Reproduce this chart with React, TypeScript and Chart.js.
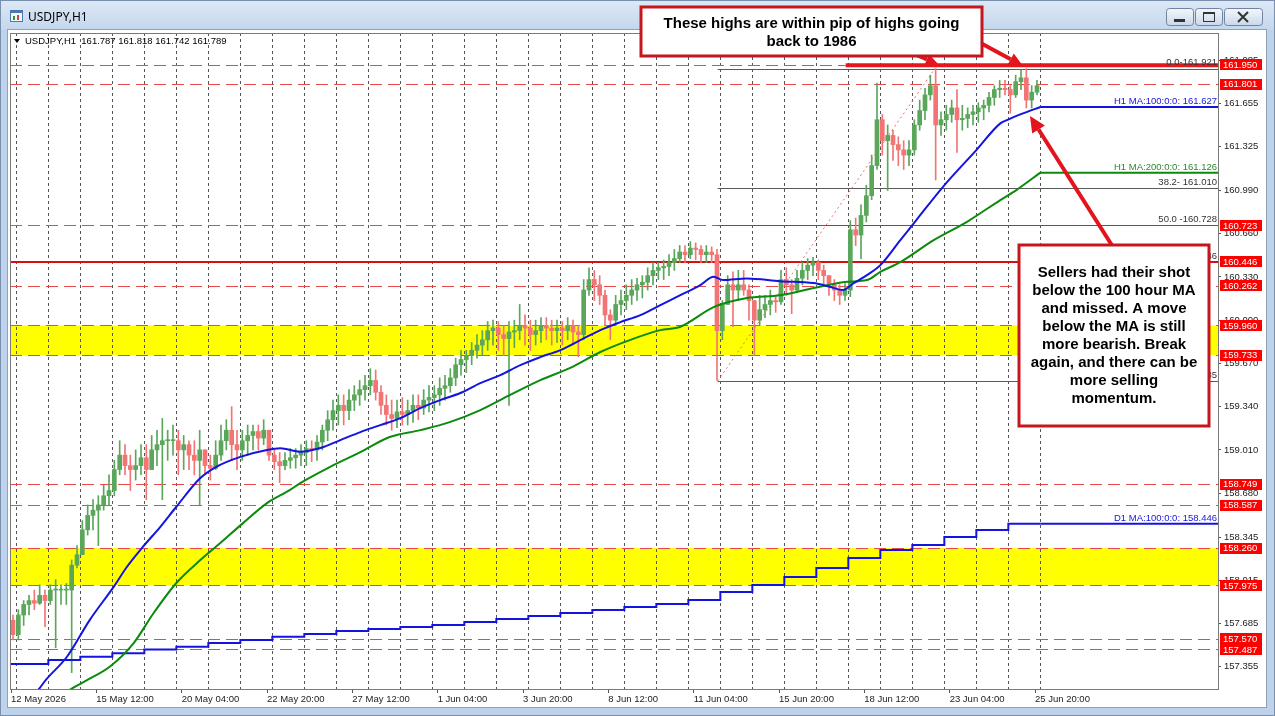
import React, { useEffect, useRef } from "react";
import { Chart, registerables } from "chart.js";

Chart.register(...registerables);

const CANVAS_W = 1275;
const CANVAS_H = 716;
const FONT = '"Liberation Sans", Arial, sans-serif';

// ---------- price axis ----------
const Y_MIN = 157.185;
const Y_MAX = 162.192;
const Y_TICKS = [161.985, 161.655, 161.325, 160.99, 160.66, 160.33, 160.0, 159.67, 159.34, 159.01, 158.68, 158.345, 158.015, 157.685, 157.355];

// ---------- time axis (H1 bar index, 0 = 12 May 2026 20:00) ----------
const X_MIN = -0.75;
const X_MAX = 905.25;
const X_LABEL_IDX = [0, 64, 128, 192, 256, 320, 384, 448, 512, 576, 640, 704, 768];
const X_LABELS = ["12 May 2026", "15 May 12:00", "20 May 04:00", "22 May 20:00", "27 May 12:00", "1 Jun 04:00", "3 Jun 20:00", "8 Jun 12:00", "11 Jun 04:00", "15 Jun 20:00", "18 Jun 12:00", "23 Jun 04:00", "25 Jun 20:00"];
const FIRST_DAY_BREAK = 4;
const BARS_PER_DAY = 24;
const LAST_BAR_IDX = 772;
const BARS_PER_CANDLE = 4;

// ---------- price candles (4-hour aggregation of the H1 bars) ----------
const OPEN_FIRST = 157.71;
const HIGH_4H = [
  157.75, 157.79, 157.86, 157.9, 157.94, 157.98, 157.94, 157.98, 158.02, 157.98,
  157.99, 158.17, 158.28, 158.47, 158.59, 158.63, 158.66, 158.74, 158.82, 158.93,
  159.08, 159.05, 158.97, 159.01, 159.05, 159.05, 159.12, 159.16, 159.25, 159.16,
  159.2, 159.16, 159.12, 159.08, 159.08, 159.16, 159.01, 158.97, 159.08, 159.2,
  159.24, 159.34, 159.16, 159.16, 159.2, 159.2, 159.2, 159.24, 159.16, 159.01,
  158.99, 158.99, 159.02, 159.02, 159.05, 159.08, 159.08, 159.12, 159.2, 159.31,
  159.39, 159.43, 159.43, 159.47, 159.5, 159.54, 159.58, 159.63, 159.62, 159.5,
  159.43, 159.39, 159.39, 159.41, 159.39, 159.43, 159.43, 159.47, 159.5, 159.5,
  159.56, 159.58, 159.63, 159.71, 159.77, 159.77, 159.83, 159.89, 159.92, 159.99,
  160.0, 159.99, 159.96, 159.99, 160.0, 160.12, 160.04, 160.0, 160.0, 160.02,
  160.02, 160.0, 160.0, 159.99, 160.02, 160.0, 159.96, 160.31, 160.4, 160.38,
  160.34, 160.23, 160.08, 160.19, 160.23, 160.27, 160.31, 160.32, 160.34, 160.4,
  160.44, 160.44, 160.46, 160.5, 160.54, 160.57, 160.57, 160.6, 160.59, 160.57,
  160.57, 160.56, 160.54, 160.15, 160.34, 160.37, 160.38, 160.38, 160.27, 160.15,
  160.19, 160.19, 160.23, 160.19, 160.38, 160.4, 160.31, 160.38, 160.44, 160.47,
  160.48, 160.46, 160.42, 160.34, 160.31, 160.27, 160.28, 160.76, 160.78, 160.88,
  161.03, 161.26, 161.81, 161.57, 161.49, 161.45, 161.4, 161.37, 161.37, 161.53,
  161.68, 161.77, 161.87, 161.92, 161.59, 161.64, 161.68, 161.76, 161.64, 161.62,
  161.64, 161.66, 161.68, 161.74, 161.79, 161.83, 161.83, 161.79, 161.87, 161.91,
  161.92, 161.79, 161.83,
];
const LOW_4H = [
  157.56, 157.56, 157.67, 157.75, 157.79, 157.83, 157.66, 157.83, 157.5, 157.83,
  157.83, 157.31, 158.11, 158.28, 158.36, 158.4, 158.28, 158.55, 158.59, 158.66,
  158.82, 158.82, 158.7, 158.78, 158.82, 158.63, 158.86, 158.89, 158.63, 158.93,
  158.97, 158.82, 158.86, 158.86, 158.82, 158.59, 158.82, 158.78, 158.86, 158.93,
  159.01, 158.93, 158.86, 158.93, 158.97, 159.01, 159.01, 159.05, 158.93, 158.86,
  158.76, 158.86, 158.87, 158.87, 158.89, 158.89, 158.92, 158.93, 159.01, 159.08,
  159.16, 159.2, 159.2, 159.24, 159.31, 159.35, 159.39, 159.43, 159.39, 159.28,
  159.2, 159.16, 159.18, 159.2, 159.2, 159.22, 159.24, 159.28, 159.3, 159.31,
  159.35, 159.39, 159.45, 159.5, 159.58, 159.6, 159.66, 159.71, 159.73, 159.77,
  159.81, 159.77, 159.73, 159.35, 159.79, 159.85, 159.81, 159.77, 159.81, 159.83,
  159.85, 159.81, 159.83, 159.81, 159.85, 159.81, 159.72, 159.85, 160.19, 160.15,
  160.12, 159.96, 159.85, 159.96, 160.04, 160.08, 160.12, 160.15, 160.17, 160.23,
  160.27, 160.31, 160.31, 160.34, 160.38, 160.44, 160.44, 160.47, 160.46, 160.44,
  160.44, 160.44, 159.54, 159.85, 160.12, 159.95, 160.15, 160.19, 160.0, 159.73,
  159.96, 160.02, 160.04, 160.06, 160.12, 160.19, 160.05, 160.21, 160.27, 160.31,
  160.34, 160.31, 160.27, 160.19, 160.15, 160.12, 160.15, 160.18, 160.57, 160.47,
  160.75, 160.92, 161.15, 161.26, 160.99, 161.22, 161.18, 161.15, 161.18, 161.26,
  161.45, 161.53, 161.68, 161.07, 161.41, 161.45, 161.51, 161.28, 161.45, 161.47,
  161.49, 161.51, 161.53, 161.59, 161.64, 161.7, 161.72, 161.58, 161.7, 161.76,
  161.62, 161.62, 161.72,
];
const CLOSE_4H = [
  157.6, 157.75, 157.83, 157.86, 157.84, 157.9, 157.86, 157.94, 157.94, 157.94,
  157.94, 158.13, 158.21, 158.4, 158.51, 158.55, 158.59, 158.66, 158.7, 158.86,
  158.97, 158.89, 158.86, 158.89, 158.95, 158.86, 159.01, 159.05, 159.08, 159.08,
  159.08, 159.01, 159.05, 158.97, 158.93, 159.01, 158.89, 158.87, 158.97, 159.08,
  159.16, 159.05, 159.01, 159.08, 159.12, 159.15, 159.1, 159.16, 158.97, 158.92,
  158.89, 158.93, 158.95, 158.97, 158.99, 159.02, 159.01, 159.07, 159.16, 159.24,
  159.31, 159.35, 159.31, 159.39, 159.43, 159.47, 159.5, 159.54, 159.45, 159.35,
  159.28, 159.25, 159.3, 159.28, 159.31, 159.35, 159.33, 159.39, 159.41, 159.43,
  159.48, 159.5, 159.56, 159.66, 159.7, 159.73, 159.77, 159.81, 159.85, 159.92,
  159.94, 159.89, 159.86, 159.91, 159.92, 159.96, 159.94, 159.89, 159.92, 159.96,
  159.94, 159.92, 159.94, 159.92, 159.96, 159.91, 159.89, 160.23, 160.31, 160.27,
  160.19, 160.04, 160.0, 160.12, 160.15, 160.19, 160.23, 160.27, 160.29, 160.34,
  160.38, 160.4, 160.41, 160.44, 160.47, 160.52, 160.5, 160.55, 160.54, 160.5,
  160.52, 160.5, 159.92, 160.12, 160.27, 160.23, 160.27, 160.23, 160.15, 160.0,
  160.08, 160.12, 160.15, 160.14, 160.31, 160.27, 160.23, 160.32, 160.38, 160.42,
  160.44, 160.38, 160.34, 160.27, 160.23, 160.19, 160.23, 160.69, 160.65, 160.8,
  160.95, 161.18, 161.53, 161.37, 161.41, 161.34, 161.3, 161.26, 161.3, 161.49,
  161.6, 161.72, 161.79, 161.49, 161.53, 161.57, 161.62, 161.53, 161.54, 161.57,
  161.59, 161.62, 161.64, 161.7, 161.76, 161.77, 161.76, 161.72, 161.82, 161.85,
  161.68, 161.74, 161.79,
];

// ---------- moving averages ----------
const MA100_IDX = [10, 21, 26, 42, 59, 77, 87, 99, 112, 124, 142, 154, 172, 192, 202, 217, 232, 247, 262, 277, 292, 307, 322, 337, 352, 367, 382, 397, 412, 427, 442, 457, 472, 487, 502, 517, 527, 534, 552, 577, 602, 614, 624, 632, 642, 652, 667, 679, 699, 724, 742, 747, 759, 772];
const MA100_VAL = [157.055, 157.185, 157.253, 157.431, 157.711, 157.965, 158.118, 158.271, 158.423, 158.576, 158.795, 158.881, 158.957, 159.009, 159.022, 158.996, 159.024, 159.085, 159.146, 159.199, 159.253, 159.329, 159.39, 159.444, 159.52, 159.581, 159.657, 159.718, 159.772, 159.848, 159.924, 159.985, 160.039, 160.115, 160.191, 160.268, 160.331, 160.306, 160.319, 160.298, 160.283, 160.255, 160.23, 160.283, 160.344, 160.42, 160.611, 160.764, 161.018, 161.298, 161.502, 161.527, 161.578, 161.627];
const MA200_IDX = [29, 45, 57, 74, 92, 107, 124, 142, 157, 174, 192, 209, 217, 239, 262, 284, 307, 329, 352, 374, 397, 419, 442, 464, 487, 502, 527, 552, 577, 602, 627, 642, 652, 667, 692, 717, 742, 754, 772];
const MA200_VAL = [157.093, 157.185, 157.253, 157.355, 157.536, 157.765, 157.994, 158.169, 158.299, 158.451, 158.604, 158.703, 158.757, 158.879, 158.993, 159.108, 159.161, 159.222, 159.314, 159.428, 159.543, 159.634, 159.757, 159.848, 159.924, 159.95, 160.1, 160.169, 160.191, 160.245, 160.293, 160.306, 160.369, 160.443, 160.611, 160.751, 160.917, 160.993, 161.126];
// D1 MA(100) value for each trading day shown (12 May .. 25 Jun)
const D1_MA100 = [157.376, 157.376, 157.406, 157.431, 157.457, 157.486, 157.508, 157.536, 157.559, 157.584, 157.605, 157.627, 157.643, 157.658, 157.673, 157.696, 157.719, 157.742, 157.765, 157.788, 157.811, 157.834, 157.864, 157.925, 157.979, 158.04, 158.108, 158.185, 158.246, 158.284, 158.345, 158.398, 158.446];

// ---------- drawn levels ----------
const DASHED_LEVELS = [161.801, 160.723, 160.262, 159.96, 159.733, 158.749, 158.587, 158.26, 157.975, 157.57, 157.487];
const SOLID_LEVEL = 160.446;
const RECORD_HIGH = 161.95;
const RECORD_LINE_START_IDX = 626;
const LABEL_LEVELS = [161.95, 161.801, 160.723, 160.446, 160.262, 159.96, 159.733, 158.749, 158.587, 158.26, 157.975, 157.57, 157.487];
const YELLOW_LOW = [159.733, 157.975];
const YELLOW_HIGH = [159.96, 158.26];

// ---------- Fibonacci ----------
const FIB_HIGH = 161.921;
const FIB_LOW = 159.535;
const FIB_START_IDX = 530;
const FIB_HIGH_IDX = 693;
const FIB_RATIOS = [0, 38.2, 50, 61.8, 100];
const FIB_TEXT = ["0.0-161.921", "38.2- 161.010", "50.0 -160.728", "61.8-160.446", "100.0-159.535"];

// ---------- texts ----------
const WINDOW_TITLE = "USDJPY,H1";
const HEADER = "USDJPY,H1  161.787 161.818 161.742 161.789";
const TOP_NOTE = ["These highs are within pip of highs going", "back to 1986"];
const RIGHT_NOTE = ["Sellers had their shot", "below the 100 hour MA", "and missed. A move", "below the MA is still", "more bearish. Break", "again, and there can be", "more selling", "momentum."];

const BLUE = "#1414e0";
const GREEN_MA = "#0b8a0b";
const CANDLE_UP = "#5aa65a";
const CANDLE_DOWN = "#f27474";
const ARROW_RED = "#e3141b";

function arrow(ctx: CanvasRenderingContext2D, x1: number, y1: number, x2: number, y2: number, head: number, hw: number) {
  const a = Math.atan2(y2 - y1, x2 - x1);
  const bx = x2 - head * Math.cos(a);
  const by = y2 - head * Math.sin(a);
  ctx.beginPath();
  ctx.moveTo(x1, y1);
  ctx.lineTo(bx, by);
  ctx.stroke();
  ctx.beginPath();
  ctx.moveTo(x2, y2);
  ctx.lineTo(bx + (hw / 2) * Math.sin(a), by - (hw / 2) * Math.cos(a));
  ctx.lineTo(bx - (hw / 2) * Math.sin(a), by + (hw / 2) * Math.cos(a));
  ctx.closePath();
  ctx.fill();
}

function noteBox(ctx: CanvasRenderingContext2D, x: number, y: number, w: number, h: number, lines: string[], firstY: number, lh: number) {
  ctx.fillStyle = "#ffffff";
  ctx.fillRect(x, y, w, h);
  ctx.strokeStyle = "#c5161d";
  ctx.lineWidth = 3;
  ctx.strokeRect(x, y, w, h);
  ctx.fillStyle = "#000";
  ctx.font = `bold 15px ${FONT}`;
  ctx.textAlign = "center";
  ctx.textBaseline = "middle";
  lines.forEach((t, i) => ctx.fillText(t, x + w / 2, firstY + i * lh));
}

function drawWindow(ctx: CanvasRenderingContext2D) {
  ctx.save();
  ctx.fillStyle = "#bed3eb";
  ctx.fillRect(0, 0, CANVAS_W, CANVAS_H);
  const g = ctx.createLinearGradient(0, 0, 0, 30);
  g.addColorStop(0, "#dde8f5");
  g.addColorStop(1, "#c4d7ed");
  ctx.fillStyle = g;
  ctx.fillRect(0, 0, CANVAS_W, 30);
  ctx.strokeStyle = "#7890ad";
  ctx.lineWidth = 1;
  ctx.strokeRect(0.5, 0.5, CANVAS_W - 1, CANVAS_H - 1);
  ctx.fillStyle = "#ffffff";
  ctx.fillRect(8, 30, 1258, 677);
  ctx.strokeStyle = "#8ea2ba";
  ctx.strokeRect(7.5, 29.5, 1259, 678);
  // icon
  ctx.fillStyle = "#f4f8fc";
  ctx.fillRect(10, 10, 13, 12);
  ctx.strokeStyle = "#4a78b0";
  ctx.strokeRect(10.5, 10.5, 12, 11);
  ctx.fillStyle = "#4a78b0";
  ctx.fillRect(10, 10, 13, 3);
  ctx.fillStyle = "#3b8f3b";
  ctx.fillRect(13, 16, 2, 4);
  ctx.fillStyle = "#d04040";
  ctx.fillRect(17, 15, 2, 5);
  // title
  ctx.fillStyle = "#000";
  ctx.font = '12px "Noto Sans", sans-serif';
  ctx.textBaseline = "middle";
  ctx.textAlign = "left";
  ctx.fillText(WINDOW_TITLE, 28, 18);
  // buttons
  const btns = [
    [1166, 27],
    [1195, 27],
    [1224, 38],
  ];
  btns.forEach(([bx, bw]) => {
    const bg = ctx.createLinearGradient(0, 9, 0, 26);
    bg.addColorStop(0, "#f2f6fb");
    bg.addColorStop(1, "#c8d7e9");
    ctx.fillStyle = bg;
    ctx.beginPath();
    ctx.roundRect(bx + 0.5, 8.5, bw, 17, 3);
    ctx.fill();
    ctx.strokeStyle = "#6f84a0";
    ctx.stroke();
  });
  ctx.fillStyle = "#333";
  ctx.fillRect(1174, 19, 11, 3);
  ctx.strokeStyle = "#333";
  ctx.lineWidth = 1;
  ctx.strokeRect(1203.5, 12.5, 11, 9);
  ctx.fillRect(1203, 12, 12, 2);
  ctx.lineWidth = 2;
  ctx.beginPath();
  ctx.moveTo(1238, 12);
  ctx.lineTo(1248, 22);
  ctx.moveTo(1248, 12);
  ctx.lineTo(1238, 22);
  ctx.stroke();
  ctx.restore();
}

const mtPlugin = {
  id: "mtOverlay",
  beforeDraw(chart: any) {
    drawWindow(chart.ctx);
  },
  beforeDatasetsDraw(chart: any) {
    const ctx: CanvasRenderingContext2D = chart.ctx;
    const { left, right, top, bottom } = chart.chartArea;
    const X = (v: number) => chart.scales.x.getPixelForValue(v);
    const Y = (v: number) => chart.scales.y.getPixelForValue(v);
    ctx.save();
    ctx.beginPath();
    ctx.rect(left, top, right - left, bottom - top);
    ctx.clip();
    // yellow zones
    ctx.fillStyle = "#ffff00";
    YELLOW_LOW.forEach((lo, i) => {
      const y1 = Y(YELLOW_HIGH[i]);
      const y2 = Y(lo);
      ctx.fillRect(left, y1, right - left, y2 - y1);
    });
    // vertical day grid
    ctx.strokeStyle = "#555";
    ctx.lineWidth = 1;
    ctx.setLineDash([3, 3]);
    for (let i = FIRST_DAY_BREAK; i <= LAST_BAR_IDX; i += BARS_PER_DAY) {
      const x = Math.round(X(i)) + 0.5;
      ctx.beginPath();
      ctx.moveTo(x, top);
      ctx.lineTo(x, bottom);
      ctx.stroke();
    }
    // dashed red levels
    ctx.strokeStyle = "#e84a4a";
    ctx.setLineDash([12, 6]);
    DASHED_LEVELS.forEach((p) => {
      const y = Math.round(Y(p)) + 0.5;
      ctx.beginPath();
      ctx.moveTo(left, y);
      ctx.lineTo(right, y);
      ctx.stroke();
    });
    {
      const y = Math.round(Y(RECORD_HIGH)) + 0.5;
      ctx.beginPath();
      ctx.moveTo(left, y);
      ctx.lineTo(X(RECORD_LINE_START_IDX), y);
      ctx.stroke();
    }
    ctx.setLineDash([]);
    // fib lines
    ctx.strokeStyle = "#5a5a5a";
    ctx.lineWidth = 1;
    FIB_RATIOS.forEach((r) => {
      const y = Math.round(Y(FIB_HIGH - (r / 100) * (FIB_HIGH - FIB_LOW))) + 0.5;
      ctx.beginPath();
      ctx.moveTo(X(FIB_START_IDX), y);
      ctx.lineTo(right, y);
      ctx.stroke();
    });
    // solid red level
    ctx.strokeStyle = "#d21010";
    ctx.lineWidth = 2;
    {
      const y = Math.round(Y(SOLID_LEVEL));
      ctx.beginPath();
      ctx.moveTo(left, y);
      ctx.lineTo(right, y);
      ctx.stroke();
    }
    // fib diagonal
    ctx.strokeStyle = "#ee7070";
    ctx.lineWidth = 1;
    ctx.setLineDash([2, 3]);
    ctx.beginPath();
    ctx.moveTo(X(FIB_START_IDX), Y(FIB_LOW));
    ctx.lineTo(X(FIB_HIGH_IDX), Y(FIB_HIGH));
    ctx.stroke();
    ctx.setLineDash([]);
    // MA extensions to the right edge
    ctx.lineWidth = 2;
    const ext: [number, string][] = [
      [MA100_VAL[MA100_VAL.length - 1], BLUE],
      [MA200_VAL[MA200_VAL.length - 1], GREEN_MA],
      [D1_MA100[D1_MA100.length - 1], BLUE],
    ];
    ext.forEach(([v, c]) => {
      ctx.strokeStyle = c;
      const y = Y(v);
      ctx.beginPath();
      ctx.moveTo(X(LAST_BAR_IDX), y);
      ctx.lineTo(right, y);
      ctx.stroke();
    });
    ctx.restore();
  },
  afterDatasetsDraw(chart: any) {
    const ctx: CanvasRenderingContext2D = chart.ctx;
    const { left, right, top, bottom } = chart.chartArea;
    const X = (v: number) => chart.scales.x.getPixelForValue(v);
    const Y = (v: number) => chart.scales.y.getPixelForValue(v);
    ctx.save();
    // record-high thick line
    ctx.strokeStyle = "#e5161c";
    ctx.lineWidth = 4;
    ctx.beginPath();
    ctx.moveTo(X(RECORD_LINE_START_IDX), Y(RECORD_HIGH) + 0.5);
    ctx.lineTo(right, Y(RECORD_HIGH) + 0.5);
    ctx.stroke();
    // plot border
    ctx.strokeStyle = "#7a7a7a";
    ctx.lineWidth = 1;
    ctx.strokeRect(left + 0.5, top + 0.5, right - left, bottom - top);
    // level descriptions
    ctx.font = `9.5px ${FONT}`;
    ctx.textAlign = "right";
    ctx.textBaseline = "bottom";
    ctx.fillStyle = "#333";
    FIB_RATIOS.forEach((r, i) => {
      const y = Y(FIB_HIGH - (r / 100) * (FIB_HIGH - FIB_LOW));
      ctx.fillText(FIB_TEXT[i], right - 1, y - 1);
    });
    ctx.fillStyle = BLUE;
    ctx.fillText(`H1 MA:100:0:0: ${MA100_VAL[MA100_VAL.length - 1].toFixed(3)}`, right - 1, Y(MA100_VAL[MA100_VAL.length - 1]) - 1);
    ctx.fillText(`D1 MA:100:0:0: ${D1_MA100[D1_MA100.length - 1].toFixed(3)}`, right - 1, Y(D1_MA100[D1_MA100.length - 1]) - 1);
    ctx.fillStyle = "#2a8a2a";
    ctx.fillText(`H1 MA:200:0:0: ${MA200_VAL[MA200_VAL.length - 1].toFixed(3)}`, right - 1, Y(MA200_VAL[MA200_VAL.length - 1]) - 1);
    ctx.restore();
  },
  afterDraw(chart: any) {
    const ctx: CanvasRenderingContext2D = chart.ctx;
    const { right } = chart.chartArea;
    const Y = (v: number) => chart.scales.y.getPixelForValue(v);
    ctx.save();
    // red price tags
    ctx.font = `9.5px ${FONT}`;
    ctx.textAlign = "left";
    ctx.textBaseline = "middle";
    LABEL_LEVELS.forEach((p) => {
      const y = Y(p);
      ctx.fillStyle = "#ff0000";
      ctx.fillRect(right + 2, Math.round(y - 5.5), 42, 11);
      ctx.fillStyle = "#ffffff";
      ctx.fillText(p.toFixed(3), right + 5, y + 0.5);
    });
    // header
    ctx.fillStyle = "#000";
    ctx.beginPath();
    ctx.moveTo(14, 39);
    ctx.lineTo(20, 39);
    ctx.lineTo(17, 43);
    ctx.closePath();
    ctx.fill();
    ctx.font = `9.5px ${FONT}`;
    ctx.fillText(HEADER, 25, 41);
    // arrows
    ctx.strokeStyle = ARROW_RED;
    ctx.fillStyle = ARROW_RED;
    ctx.lineWidth = 4;
    ctx.lineCap = "butt";
    arrow(ctx, 900, 48, 938, 64, 12, 11);
    arrow(ctx, 975, 40, 1023, 66, 14, 13);
    arrow(ctx, 1113, 247, 1030, 116, 16, 15);
    // notes
    noteBox(ctx, 641, 7, 341, 49, TOP_NOTE, 24, 18);
    noteBox(ctx, 1019, 245, 190, 181, RIGHT_NOTE, 272.5, 18);
    ctx.restore();
  },
};

export default function App() {
  const ref = useRef<HTMLCanvasElement | null>(null);
  useEffect(() => {
    if (!ref.current) return;
    const bodies: any[] = [];
    const wicks: any[] = [];
    const colors: string[] = [];
    let prev = OPEN_FIRST;
    CLOSE_4H.forEach((c, k) => {
      const o = prev;
      const x = k * BARS_PER_CANDLE + (BARS_PER_CANDLE - 1) / 2;
      bodies.push({ x, y: [Math.min(o, c), Math.max(o, c)] });
      wicks.push({ x, y: [Math.min(LOW_4H[k], o, c), Math.max(HIGH_4H[k], o, c)] });
      colors.push(c >= o ? CANDLE_UP : CANDLE_DOWN);
      prev = c;
    });
    const d1Points = D1_MA100.map((v, d) => ({ x: d === 0 ? X_MIN : FIRST_DAY_BREAK + BARS_PER_DAY * (d - 1), y: v }));
    d1Points.push({ x: LAST_BAR_IDX, y: D1_MA100[D1_MA100.length - 1] });

    const chart = new Chart(ref.current, {
      type: "bar",
      data: {
        datasets: [
          { type: "line", label: "H1 MA 100", data: MA100_IDX.map((x, i) => ({ x, y: MA100_VAL[i] })), borderColor: BLUE, borderWidth: 2, pointRadius: 0, cubicInterpolationMode: "monotone", order: 0 } as any,
          { type: "line", label: "H1 MA 200", data: MA200_IDX.map((x, i) => ({ x, y: MA200_VAL[i] })), borderColor: GREEN_MA, borderWidth: 2, pointRadius: 0, cubicInterpolationMode: "monotone", order: 0 } as any,
          { type: "line", label: "D1 MA 100", data: d1Points, borderColor: BLUE, borderWidth: 2, pointRadius: 0, stepped: "before", order: 0 } as any,
          { type: "bar", label: "body", data: bodies, backgroundColor: colors, barThickness: 4, grouped: false, minBarLength: 1, order: 1 } as any,
          { type: "bar", label: "wick", data: wicks, backgroundColor: colors, barThickness: 1, grouped: false, order: 2 } as any,
        ],
      },
      options: {
        responsive: false,
        animation: false,
        devicePixelRatio: 1,
        events: [],
        layout: { padding: { left: 10, top: 33, right: 0, bottom: 0 } },
        plugins: { legend: { display: false }, tooltip: { enabled: false } },
        scales: {
          x: {
            type: "linear",
            position: "bottom",
            min: X_MIN,
            max: X_MAX,
            offset: false,
            afterBuildTicks: (s: any) => {
              s.ticks = X_LABEL_IDX.map((v) => ({ value: v }));
            },
            afterFit: (s: any) => {
              s.height = 27;
            },
            ticks: {
              callback: (v: any) => X_LABELS[X_LABEL_IDX.indexOf(Number(v))] ?? "",
              align: "start",
              maxRotation: 0,
              minRotation: 0,
              autoSkip: false,
              padding: 1,
              color: "#222",
              font: { family: FONT, size: 9.5 },
            },
            grid: { drawOnChartArea: false, drawTicks: true, tickLength: 4, color: "#555", offset: false },
            border: { display: false },
          },
          y: {
            type: "linear",
            position: "right",
            min: Y_MIN,
            max: Y_MAX,
            afterBuildTicks: (s: any) => {
              s.ticks = Y_TICKS.map((v) => ({ value: v }));
            },
            afterFit: (s: any) => {
              s.width = 57;
            },
            ticks: {
              callback: (v: any) => Number(v).toFixed(3),
              autoSkip: false,
              padding: 3,
              color: "#222",
              font: { family: FONT, size: 9.5 },
            },
            grid: { drawOnChartArea: false, drawTicks: true, tickLength: 3, color: "#555" },
            border: { display: false },
          },
        },
      } as any,
      plugins: [mtPlugin],
    });
    return () => chart.destroy();
  }, []);
  return (
    <div style={{ position: "absolute", left: 0, top: 0, width: CANVAS_W, height: CANVAS_H }}>
      <canvas ref={ref} width={CANVAS_W} height={CANVAS_H} style={{ display: "block" }} />
    </div>
  );
}
